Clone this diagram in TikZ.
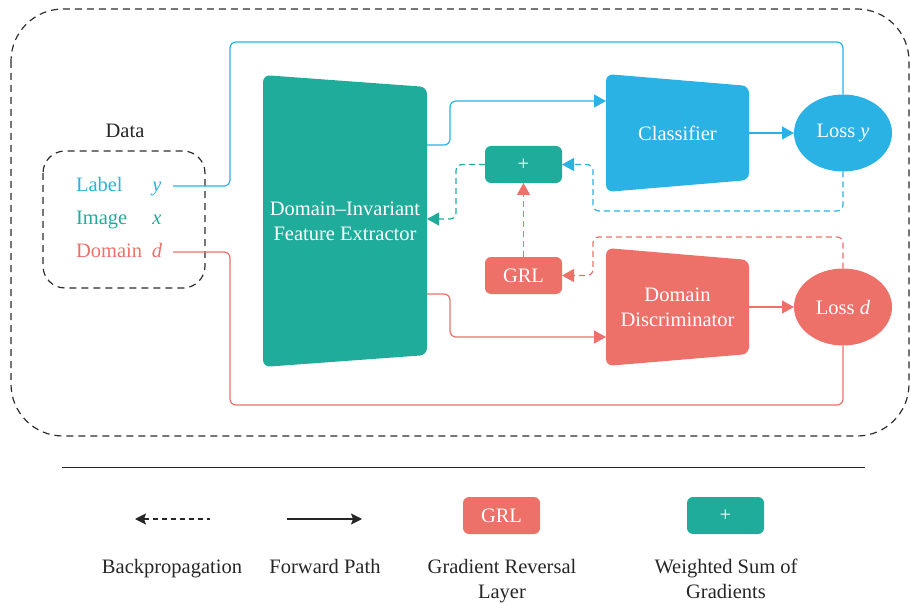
\documentclass[tikz,border=0pt]{standalone}
\usepackage{fontspec}
\setmainfont{Liberation Serif}
\usetikzlibrary{arrows.meta,calc,shapes.geometric}
\definecolor{cblue}{RGB}{42,178,229}
\definecolor{cteal}{RGB}{32,172,155}
\definecolor{cred}{RGB}{237,113,105}
\definecolor{cdash}{RGB}{45,45,45}

\begin{document}
\begin{tikzpicture}[x=1pt,y=-1pt,
  every node/.style={font=\fontsize{20.5}{25}\selectfont, inner sep=0pt, outer sep=0pt},
  % rounded trapezoid block, right side shorter than the left
  trap/.style={minimum width=#1, text=white, align=center},
  trapfill/.style={path picture={
      \fill[#1, rounded corners=7pt]
        (path picture bounding box.north west)
        -- ($(path picture bounding box.north east)+(0,12)$)
        -- ($(path picture bounding box.south east)+(0,-12)$)
        -- (path picture bounding box.south west) -- cycle;}},
  smallbox/.style={fill=#1, text=white, rounded corners=6pt,
      minimum width=77pt, minimum height=37pt},
  lossnode/.style={ellipse, fill=#1, text=white,
      minimum width=98pt, minimum height=77pt},
  fwd/.style={draw=#1, line width=1.2pt, rounded corners=6pt},
  fwdarrow/.style={fwd=#1, -{Triangle[length=12pt,width=13pt]}},
  back/.style={draw=#1, line width=1.2pt, rounded corners=6pt,
      dash pattern=on 6pt off 4pt, -{Triangle[length=12pt,width=13pt]}},
  groupbox/.style={draw=cdash, line width=1.2pt, dash pattern=on 7pt off 5pt},
  legendtext/.style={anchor=north, align=center, text=black!85}
]
\useasboundingbox (0,0) rectangle (910,604);

% outer frame and data group
\draw[groupbox, rounded corners=52pt] (11,9) rectangle (909,436);
\draw[groupbox, rounded corners=22pt] (43,151) rectangle (205,288);
\node[text=black!85] (datalbl) at (125,131) {Data};

% data items
\node[anchor=base west, text=cblue] (lbl) at (76,192) {Label};
\node[anchor=base, text=cblue] (ly) at (157,192) {\textit{y}};
\node[anchor=base west, text=cteal] (img) at (76,225) {Image};
\node[anchor=base, text=cteal] (ix) at (157,225) {\textit{x}};
\node[anchor=base west, text=cred] (dom) at (76,258) {Domain};
\node[anchor=base, text=cred] (dd0) at (157,258) {\textit{d}};
\coordinate (ystart) at (173,186);
\coordinate (dstart) at (173,252);

% main blocks
\node[trap=164pt, minimum height=292pt, trapfill=cteal] (fe) at (345,221)
  {Domain–Invariant\\Feature Extractor};
\node[trap=143pt, minimum height=118pt, trapfill=cblue] (cls) at (677.5,133)
  {Classifier};
\node[trap=143pt, minimum height=118pt, trapfill=cred] (dd) at (677.5,307)
  {Domain\\Discriminator};
\node[lossnode=cblue] (lossy) at (843,133) {Loss \textit{y}};
\node[lossnode=cred] (lossd) at (843,307) {Loss \textit{d}};
\node[smallbox=cteal] (plus) at (523.5,164.5) {+};
\node[smallbox=cred] (grl) at (523.5,275.5) {GRL};

% forward paths
\draw[fwd=cblue] (ystart) -- (230,186) -- (230,42) -- (843,42) -- (lossy.north);
\draw[fwdarrow=cblue] ($(fe.east)+(0,-76)$) -- (450,145) -- (450,101)
  -- ($(cls.west)+(0,-32)$);
\draw[fwdarrow=cblue] (cls.east) -- (lossy.west);
\draw[fwd=cred] (dstart) -- (230,252) -- (230,405) -- (843,405) -- (lossd.south);
\draw[fwdarrow=cred] ($(fe.east)+(0,73)$) -- (450,294) -- (450,337)
  -- ($(dd.west)+(0,30)$);
\draw[fwdarrow=cred] (dd.east) -- (lossd.west);

% backpropagation paths
\draw[back=cblue] (lossy.south) -- (843,211) -- (593,211) -- (593,164.5) -- (plus.east);
\draw[back=cteal] (plus.west) -- (456,164.5) -- (456,219) -- ($(fe.east)+(0,-2)$);
\draw[back=cred] (grl.north) -- (plus.south);
\draw[back=cred] (lossd.north) -- (843,237) -- (593,237) -- (593,275.5) -- (grl.east);

% legend
\coordinate (ruleL) at (62,467);
\coordinate (ruleR) at (865,467);
\draw[black!85, line width=1pt] (ruleL) -- (ruleR);

\coordinate (bpL) at (135,519);
\coordinate (bpR) at (210,519);
\draw[black!85, line width=1.2pt, dash pattern=on 5pt off 4pt,
  {Stealth[length=11pt,width=11pt,inset=2pt]}-] (bpL) -- (bpR);
\coordinate (fpL) at (287,519);
\coordinate (fpR) at (362,519);
\draw[black!85, line width=1.2pt, -{Stealth[length=11pt,width=11pt,inset=2pt]}] (fpL) -- (fpR);
\node[smallbox=cred] (grlkey) at (501.5,515.5) {GRL};
\node[smallbox=cteal] (pluskey) at (725.5,515.5) {+};

\node[legendtext] (bptext) at (172,559) {Backpropagation};
\node[legendtext] (fptext) at (325,559) {Forward Path};
\node[legendtext] (grltext) at (502,559) {Gradient Reversal\\Layer};
\node[legendtext] (plustext) at (726,559) {Weighted Sum of\\Gradients};
\end{tikzpicture}
\end{document}
